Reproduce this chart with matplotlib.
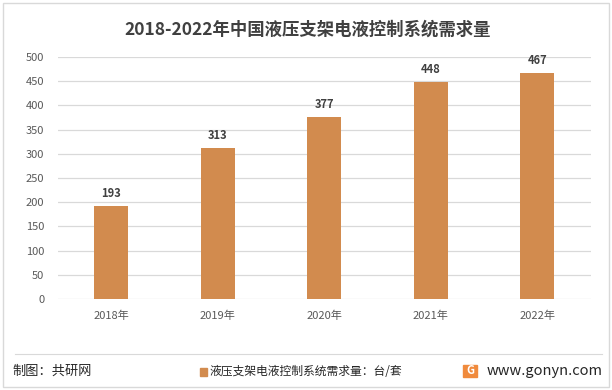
import matplotlib.pyplot as plt
from matplotlib.patches import Rectangle
from matplotlib.lines import Line2D

plt.rcParams['font.family'] = ['Noto Sans CJK SC', 'DejaVu Sans']

years = ["2018年", "2019年", "2020年", "2021年", "2022年"]
demand = [193, 313, 377, 448, 467]
yticks = [0, 50, 100, 150, 200, 250, 300, 350, 400, 450, 500]

bar_color = "#D28B4E"
text_color = "#595959"

fig = plt.figure(figsize=(6.12, 3.9), dpi=100)
ax = fig.add_axes([0.095, 0.233, 0.870, 0.621])

x = range(len(years))
bars = ax.bar(x, demand, width=0.32, color=bar_color, zorder=3)
for xi, v in zip(x, demand):
    ax.text(xi, v + 12, str(v), ha="center", va="bottom", fontsize=8,
            fontweight="bold", color="#404040")

ax.set_xlim(-0.5, len(years) - 0.5)
ax.set_ylim(0, 500)
ax.set_yticks(yticks)
ax.set_xticks(list(x))
ax.set_xticklabels(years)
ax.yaxis.grid(True, color="#D9D9D9", linewidth=0.9, zorder=0)
for s in ax.spines.values():
    s.set_visible(False)
ax.tick_params(axis="both", length=0, labelsize=8, colors=text_color)
ax.tick_params(axis="y", pad=10)
ax.tick_params(axis="x", pad=8)

fig.text(0.502, 0.923, "2018-2022年中国液压支架电液控制系统需求量", ha="center",
         va="center", fontsize=12.5, fontweight="bold", color="#404040")

# footer
fig.add_artist(Line2D([0.025, 0.983], [0.093, 0.093], color="#D9D9D9",
                      linewidth=0.8, transform=fig.transFigure))
fig.text(0.02, 0.048, "制图：共研网", ha="left", va="center", fontsize=9.5,
         color="#262626")
fig.add_artist(Rectangle((0.327, 0.037), 0.011, 0.02, color=bar_color,
                         transform=fig.transFigure))
fig.text(0.342, 0.048, "液压支架电液控制系统需求量：台/套", ha="left", va="center",
         fontsize=8.5, color="#262626")
fig.text(0.985, 0.048, "www.gonyn.com", ha="right", va="center", fontsize=10.5,
         color="#262626")
fig.add_artist(Rectangle((0.757, 0.033), 0.022, 0.032, color="#F08A3C",
                         transform=fig.transFigure))
fig.text(0.768, 0.049, "G", ha="center", va="center", fontsize=8,
         fontweight="bold", color="white")

# outer border
fig.add_artist(Rectangle((0.005, 0.008), 0.99, 0.984, fill=False,
                         edgecolor="#D9D9D9", linewidth=1,
                         transform=fig.transFigure))

fig.savefig("out.png", dpi=100)
